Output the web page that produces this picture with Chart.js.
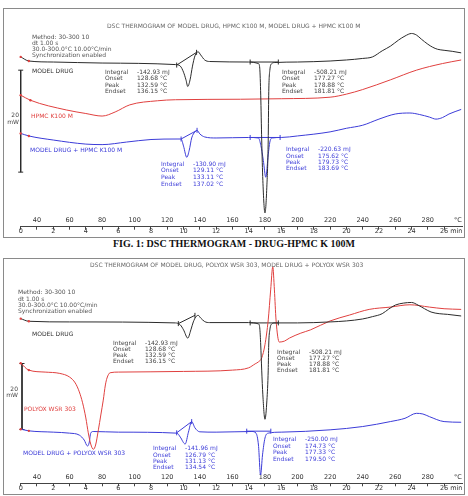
<!DOCTYPE html>
<html>
<head>
<meta charset="utf-8">
<script src="https://cdn.jsdelivr.net/npm/chart.js@4.4.1/dist/chart.umd.min.js"></script>
<style>
body{margin:0;width:468px;height:496px;background:#fff;position:relative;overflow:hidden;font-family:"DejaVu Sans",sans-serif}
.frame{position:absolute;left:3px;width:460px;border:1px solid #8a8a8a}
.frame canvas{display:block}
.t{position:absolute;font-size:6px;line-height:8px;white-space:pre;color:#444}
.cap{position:absolute;left:0;width:468px;text-align:center;font:bold 10px "Liberation Serif",serif;color:#111;line-height:12px}
</style>
</head>
<body>
<div class="frame" style="top:8px;height:228px"><canvas id="c1" width="460" height="228"></canvas></div>
<div class="cap" style="top:238px">FIG. 1: DSC THERMOGRAM - DRUG-HPMC K 100M</div>
<div class="frame" style="top:258px;height:235px"><canvas id="c2" width="460" height="235"></canvas></div>
<script>
"use strict"
//axis: time in min, temperature = 30 + 10 * min
var minuteMarks = [0,1,2,3,4,5,6,7,8,9,10,11,12,13,14,15,16,17,18,19,20,21,22,23,24,25,26];
var minuteLabels = [0,2,4,6,8,10,12,14,16,18,20,22,24,26];
var tempLabels = [40,60,80,100,120,140,160,180,200,220,240,260,280];

//FIG 1 - model drug / HPMC K100 M (heat flow, mW with offsets)
var drug1T = [0,0.5,2,5,9.5,9.8,10.0,10.15,10.26,10.4,10.55,10.7,10.9,11.05,11.3,11.6,14.0,14.6,14.68,14.74,14.8,14.87,15.0,15.12,15.2,15.23,15.3,15.42,15.6,17,19,20,21,21.6,22.2,22.7,23.2,23.6,24.0,24.3,24.6,25.0,25.3,25.6,26.0,26.5,27.05];
var drug1MW = [33.3,32.5,32.3,32.1,31.8,31.5,30.3,28.8,27.5,28.8,31.5,33.5,34.3,33.7,32.7,32.4,32.3,32.0,31.1,25.8,17.0,9.1,2.7,8.2,17.0,25.8,30.7,32.0,32.2,32.3,32.5,32.7,33.0,33.3,34.5,35.4,36.6,37.4,37.9,37.6,36.8,35.8,35.2,34.8,34.6,34.4,34.1];
var hpmcT = [0,0.6,2.8,4.0,5.0,5.8,6.7,8.4,9.5,13.5,16,19,20,21,22.7,24.3,25.9,27.05];
var hpmcMW = [25.8,24.8,22.9,22.2,21.7,22.5,23.9,24.7,24.9,25.0,25.1,25.4,26.0,26.9,28.8,30.7,32.0,32.7];
var mixHpmcT = [0,0.5,2,4,5,6.5,8,9.6,9.85,10.0,10.2,10.35,10.5,10.7,10.83,11.0,11.3,12,14.0,14.6,14.75,14.9,15.05,15.2,15.3,15.45,16,17,19,20,21,22,23,23.9,24.5,25.1,25.5,25.9,26.3,27.05];
var mixHpmcMW = [18.3,17.8,17.0,16.2,16.1,16.6,17.1,17.2,17.2,15.8,13.6,15.0,17.4,18.6,18.9,18.2,17.6,17.4,17.5,17.4,15.9,13.0,9.7,14.1,16.6,17.4,17.5,17.8,18.6,19.3,19.9,21.1,22.1,22.3,22.0,21.5,21.1,21.4,22.1,23.0];
//integration limits
var drug1Base1T = [9.58,10.8], drug1Base1MW = [31.7,34.2];
var drug1Base2T = [14.09,15.82], drug1Base2MW = [32.3,32.3];
var mixHpmcBase1T = [9.85,10.83], mixHpmcBase1MW = [17.2,18.9];
var mixHpmcBase2T = [14.09,15.93], mixHpmcBase2MW = [17.5,17.5];
var scale1T = [0,0], scale1MW = [30.7,10.7];//20 mW bar

//FIG 2 - model drug / POLYOX WSR 303
var drug2T = [0,0.5,3,9.5,9.8,10.0,10.26,10.45,10.6,10.75,10.9,11.05,11.3,11.6,14.0,14.6,14.68,14.74,14.8,14.87,15.0,15.12,15.2,15.23,15.3,15.42,15.6,17,19,20,21,21.6,22.2,22.6,23.0,23.5,24.0,24.4,24.8,25.2,25.7,26.2,27.05];
var drug2MW = [49.9,49.1,48.9,48.6,48.0,46.5,44.0,46.5,48.9,50.4,50.9,50.1,49.0,48.7,48.7,48.3,47.1,41.9,34.3,26.8,19.4,25.2,34.3,41.9,46.5,48.3,48.6,48.6,48.9,49.2,49.8,50.5,51.4,52.8,54.0,54.6,54.8,54.0,52.9,51.9,51.4,51.2,50.7];
var polyoxT = [0,0.5,1.5,2.4,3.0,3.35,3.6,3.8,4.0,4.15,4.3,4.46,4.6,4.77,4.92,5.07,5.2,5.3,5.49,6,10,13.0,14.0,14.4,14.6,14.8,15.0,15.2,15.35,15.48,15.58,15.68,15.88,16.2,16.5,17.2,17.8,19.0,20.2,21.4,22.7,23.9,25.1,26.0,27.05];
var polyoxMW = [36.4,34.3,33.7,33.3,32.2,30.4,27.7,24.4,19.8,15.3,11.9,10.3,11.6,16.2,20.7,25.2,29.8,31.9,33.5,33.7,33.9,34.3,35.0,36.2,36.8,38.0,42.0,49.5,58.6,65.6,58.6,49.5,42.8,43.1,44.0,45.5,46.5,49.2,51.0,52.7,53.4,54.1,53.4,52.9,52.7];
var mixPolyoxT = [0,0.5,2,3.0,3.6,3.9,4.1,4.2,4.3,4.45,6,9.6,9.8,10.1,10.3,10.5,10.7,11.0,12,14.2,14.45,14.6,14.73,14.85,15.0,15.2,16,19,21,22.7,23.6,24.3,24.7,25.1,26.0,27.05];
var mixPolyoxMW = [16.4,15.9,15.5,15.2,14.6,13.1,11.3,12.2,15.2,15.7,15.5,15.2,14.0,11.9,15.5,18.7,16.8,15.6,15.5,15.7,15.2,11.6,2.5,8.6,13.7,15.2,15.5,16.2,17.2,18.7,19.7,21.2,21.0,20.2,18.7,18.5];
var drug2Base1T = [9.68,10.7], drug2Base1MW = [48.4,50.9];
var drug2Base2T = [14.09,15.82], drug2Base2MW = [48.6,48.6];
var mixPolyoxBase1T = [9.58,10.5], mixPolyoxBase1MW = [15.3,18.7];
var mixPolyoxBase2T = [13.88,15.36], mixPolyoxBase2MW = [15.8,15.8];
var scale2T = [0.08,0.08], scale2MW = [36.3,16.3];

var X_MAX = 27.1;
var BLACK = "#2b2b2b", RED = "#e0403f", BLUE = "#3c3cd8";
var FONT = {family:"DejaVu Sans", size:6.5};

function pts(t, v) { return t.map(function(x, i) { return {x: x, y: v[i]}; }); }

function curve(t, v, color) {
  return {data: pts(t, v), xAxisID: "x", borderColor: color, borderWidth: 1, fill: false, clip: false,
    cubicInterpolationMode: "monotone",
    pointRadius: function(c) { return c.dataIndex < 2 ? 1.2 : 0; },//start markers
    pointBackgroundColor: RED, pointBorderWidth: 0};
}
function limits(t, v, color, rot) {
  return {data: pts(t, v), xAxisID: "x", borderColor: color, borderWidth: 1, fill: false, clip: false, tension: 0,
    pointStyle: "line", pointRotation: rot, pointRadius: 2.5, pointBorderColor: color, pointBorderWidth: 1};
}

function minuteAxis(h) {
  return {type: "linear", position: "bottom", weight: 1, min: 0, max: X_MAX,
    afterBuildTicks: function(s) { s.ticks = minuteMarks.concat([26.75]).map(function(v) { return {value: v}; }); },
    afterFit: function(s) { s.height = h; s.paddingLeft = 0; s.paddingRight = 0; },
    ticks: {autoSkip: false, maxRotation: 0, padding: -2, color: "#333", font: FONT,
      callback: function(v) { return v === 26.75 ? "min" : (minuteLabels.indexOf(v) >= 0 ? String(v) : ""); }},
    grid: {drawOnChartArea: false, tickLength: 3,
      tickColor: function(c) { return c.tick && c.tick.value === 26.75 ? "rgba(0,0,0,0)" : "#444"; }},
    border: {color: "#444", width: 1}};
}
function tempAxis(h) {
  return {type: "linear", axis: "x", position: "bottom", weight: 0, min: 0, max: X_MAX,
    afterBuildTicks: function(s) {
      s.ticks = tempLabels.map(function(T) { return {value: (T - 30) / 10}; }).concat([{value: 26.85}]);
    },
    afterFit: function(s) { s.height = h; s.paddingLeft = 0; s.paddingRight = 0; },
    ticks: {autoSkip: false, maxRotation: 0, padding: 0, color: "#333", font: FONT,
      callback: function(v) { return v === 26.85 ? "°C" : String(Math.round(v * 10 + 30)); }},
    grid: {display: false, drawTicks: false}, border: {display: false}};
}

function makeChart(id, datasets, yMin, yMax, minH, tempH) {
  return new Chart(document.getElementById(id), {
    type: "line",
    data: {datasets: datasets},
    options: {
      responsive: false, animation: false,
      layout: {autoPadding: false, padding: {left: 16.7, right: 2, top: 0, bottom: 0}},
      plugins: {legend: {display: false}, tooltip: {enabled: false}, title: {display: false}},
      scales: {
        x: minuteAxis(minH),
        temp: tempAxis(tempH),
        y: {display: false, min: yMin, max: yMax}
      }
    }
  });
}

makeChart("c1", [
  curve(drug1T, drug1MW, BLACK),
  curve(hpmcT, hpmcMW, RED),
  curve(mixHpmcT, mixHpmcMW, BLUE),
  limits(drug1Base1T, drug1Base1MW, BLACK, 90),
  limits(drug1Base2T, drug1Base2MW, BLACK, 90),
  limits(mixHpmcBase1T, mixHpmcBase1MW, BLUE, 90),
  limits(mixHpmcBase2T, mixHpmcBase2MW, BLUE, 90),
  limits(scale1T, scale1MW, BLACK, 0)
], 1.94, 42.7, 10.3, 9.9);

makeChart("c2", [
  curve(drug2T, drug2MW, BLACK),
  curve(polyoxT, polyoxMW, RED),
  curve(mixPolyoxT, mixPolyoxMW, BLUE),
  limits(drug2Base1T, drug2Base1MW, BLACK, 90),
  limits(drug2Base2T, drug2Base2MW, BLACK, 90),
  limits(mixPolyoxBase1T, mixPolyoxBase1MW, BLUE, 90),
  limits(mixPolyoxBase2T, mixPolyoxBase2MW, BLUE, 90),
  limits(scale2T, scale2MW, BLACK, 0)
], 2.97, 67.97, 10.7, 9.8);

//text annotations (page coordinates, y = text centre)
function txt(x, y, s, color, align) {
  var d = document.createElement("div");
  d.className = "t";
  d.textContent = s;
  d.style.top = (y - 4) + "px";
  if (align === "c") { d.style.left = (x - 200) + "px"; d.style.width = "400px"; d.style.textAlign = "center"; }
  else if (align === "r") { d.style.left = (x - 40) + "px"; d.style.width = "40px"; d.style.textAlign = "right"; }
  else d.style.left = x + "px";
  if (color) d.style.color = color;
  document.body.appendChild(d);
}
function box(x, xv, ys, vals, color) {
  var names = ["Integral", "Onset", "Peak", "Endset"];
  for (var i = 0; i < 4; i++) { txt(x, ys[i], names[i], color); txt(xv, ys[i], vals[i], color); }
}
function method(x, ys) {
  var lines = ["Method: 30-300 10", "dt 1.00 s", "30.0-300.0°C 10.00°C/min", "Synchronization enabled"];
  for (var i = 0; i < 4; i++) txt(x, ys[i], lines[i], "#555");
}

//FIG 1
txt(233.7, 26, "DSC THERMOGRAM OF MODEL DRUG, HPMC K100 M, MODEL DRUG + HPMC K100 M", "#666", "c");
method(32, [36.7, 42.7, 48.7, 55]);
txt(32, 71, "MODEL DRUG", "#333");
box(105, 137, [72, 78.3, 84.5, 90.7], ["-142.93 mJ", "128.68 °C", "132.59 °C", "136.15 °C"], "#444");
box(282, 314, [72, 78.3, 84.5, 90.7], ["-508.21 mJ", "177.27 °C", "178.88 °C", "181.81 °C"], "#444");
txt(31, 116, "HPMC K100 M", RED);
txt(19, 115, "20", "#444", "r");
txt(19, 122, "mW", "#444", "r");
txt(30, 149.5, "MODEL DRUG + HPMC K100 M", BLUE);
box(161, 193, [163.7, 170.3, 177, 183.7], ["-130.90 mJ", "129.11 °C", "133.11 °C", "137.02 °C"], BLUE);
box(286, 318, [149.3, 155.7, 162, 168], ["-220.63 mJ", "175.62 °C", "179.73 °C", "183.69 °C"], BLUE);

//FIG 2
txt(226.7, 265, "DSC THERMOGRAM OF MODEL DRUG, POLYOX WSR 303, MODEL DRUG + POLYOX WSR 303", "#666", "c");
method(18, [292, 298.5, 304.7, 311]);
txt(32, 333.7, "MODEL DRUG", "#333");
box(113, 145, [342.7, 348.7, 354.7, 361], ["-142.93 mJ", "128.68 °C", "132.59 °C", "136.15 °C"], "#444");
box(277, 309, [351.5, 357.5, 363.7, 370], ["-508.21 mJ", "177.27 °C", "178.88 °C", "181.81 °C"], "#444");
txt(18, 389, "20", "#444", "r");
txt(18, 395, "mW", "#444", "r");
txt(24, 409, "POLYOX WSR 303", RED);
txt(23, 453.3, "MODEL DRUG + POLYOX WSR 303", BLUE);
box(153, 185, [448.3, 454.7, 460.7, 467.3], ["-141.96 mJ", "126.79 °C", "131.13 °C", "134.54 °C"], BLUE);
box(273, 305, [439.3, 445.7, 452, 458.7], ["-250.00 mJ", "174.73 °C", "177.33 °C", "179.50 °C"], BLUE);
</script>
</body>
</html>
